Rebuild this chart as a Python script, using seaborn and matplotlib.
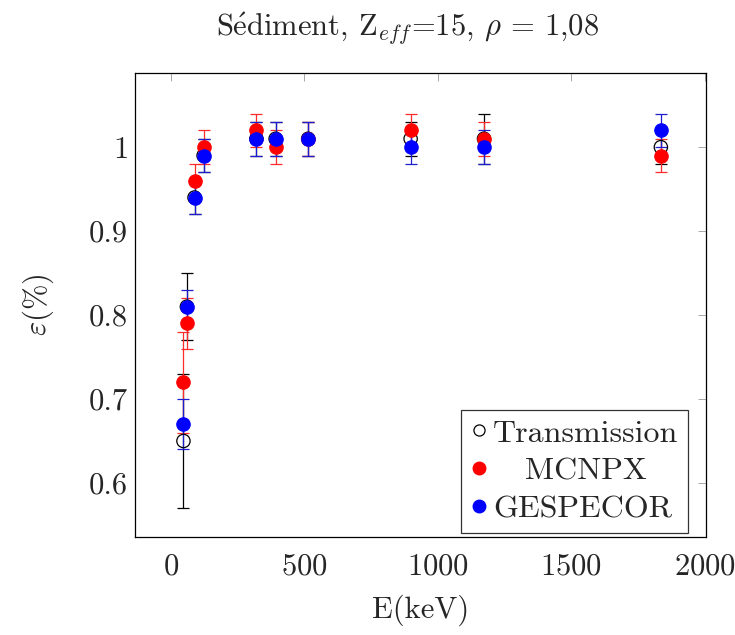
import numpy as np
import pandas as pd
import matplotlib
matplotlib.use('Agg')
import matplotlib.pyplot as plt
import seaborn as sns
from matplotlib.lines import Line2D
from matplotlib.ticker import FuncFormatter

sns.set_theme(style='white')
plt.rcParams['font.family'] = ['cmr10', 'DejaVu Serif']
plt.rcParams['mathtext.fontset'] = 'cm'
plt.rcParams['axes.formatter.use_mathtext'] = True

# energies (keV)
energy = [46.5, 59.5, 88, 122, 320, 392, 514, 898, 1173, 1836]

trans = [0.65, 0.81, 0.94, 0.99, 1.01, 1.01, 1.01, 1.01, 1.01, 1.00]
trans_err = [0.08, 0.04, 0.02, 0.02, 0.02, 0.02, 0.02, 0.02, 0.03, 0.02]

mcnpx = [0.72, 0.79, 0.96, 1.00, 1.02, 1.00, 1.01, 1.02, 1.01, 0.99]
mcnpx_err = [0.06, 0.03, 0.02, 0.02, 0.02, 0.02, 0.02, 0.02, 0.02, 0.02]

gespecor = [0.67, 0.81, 0.94, 0.99, 1.01, 1.01, 1.01, 1.00, 1.00, 1.02]
gespecor_err = [0.03, 0.02, 0.02, 0.02, 0.02, 0.02, 0.02, 0.02, 0.02, 0.02]

methods = ['Transmission', 'MCNPX', 'GESPECOR']

df = pd.concat([
    pd.DataFrame({'E': energy, 'eff': trans, 'err': trans_err, 'method': 'Transmission'}),
    pd.DataFrame({'E': energy, 'eff': mcnpx, 'err': mcnpx_err, 'method': 'MCNPX'}),
    pd.DataFrame({'E': energy, 'eff': gespecor, 'err': gespecor_err, 'method': 'GESPECOR'}),
])

fig = plt.figure(figsize=(7.35, 6.35), dpi=100)
ax = fig.add_axes([0.1837, 0.1548, 0.7768, 0.7298])

bar_col = {'Transmission': 'black', 'MCNPX': '#ff2a2a', 'GESPECOR': '#1c1cd0'}
face_col = {'Transmission': 'none', 'MCNPX': 'red', 'GESPECOR': 'blue'}
edge_col = {'Transmission': 'black', 'MCNPX': 'red', 'GESPECOR': 'blue'}

for i, m in enumerate(methods):
    sub = df[df['method'] == m]
    ax.errorbar(sub['E'], sub['eff'], yerr=sub['err'], fmt='none',
                ecolor=bar_col[m], elinewidth=0.9, capsize=4.5, capthick=0.9,
                zorder=2 + i)
    sns.scatterplot(data=sub, x='E', y='eff', ax=ax, s=92,
                    facecolors=face_col[m], edgecolor=edge_col[m],
                    linewidth=0.9, zorder=5 + i, legend=False)

ax.set_xlim(-135, 2005)
ax.set_ylim(0.536, 1.088)
ax.set_xticks([0, 500, 1000, 1500, 2000])
ax.set_yticks([0.6, 0.7, 0.8, 0.9, 1.0])
ax.yaxis.set_major_formatter(FuncFormatter(lambda v, p: f'{v:g}'))
ax.tick_params(direction='in', length=6, width=0.6, color='#999999',
               top=True, right=True, labelsize=22)
ax.tick_params(axis='x', pad=12)
ax.tick_params(axis='y', pad=5)
for sp in ax.spines.values():
    sp.set_color('black')
    sp.set_linewidth(0.9)

ax.set_xlabel('E(keV)', fontsize=22, labelpad=10)
ax.set_ylabel(r'$\varepsilon$(%)', fontsize=22, labelpad=24)
ax.set_title(r'$\mathrm{S\acute{e}diment}$, Z$_{eff}$=15, $\rho$ = 1,08',
             fontsize=22, pad=27, x=0.477)

handles = [
    Line2D([], [], ls='none', marker='o', ms=8, mfc='none', mec='black', mew=0.9),
    Line2D([], [], ls='none', marker='o', ms=9, mfc='red', mec='red'),
    Line2D([], [], ls='none', marker='o', ms=9, mfc='blue', mec='blue'),
]
leg = ax.legend(handles, ['Transmission', '   MCNPX', 'GESPECOR'], loc='lower right',
                bbox_to_anchor=(0.9685, 0.008), borderaxespad=0,
                fontsize=23, frameon=True, fancybox=False, edgecolor='black',
                handlelength=0.5, handletextpad=0.2, borderpad=0.3,
                labelspacing=0.3)
leg.get_frame().set_linewidth(0.9)

fig.savefig('out.png', dpi=100)
